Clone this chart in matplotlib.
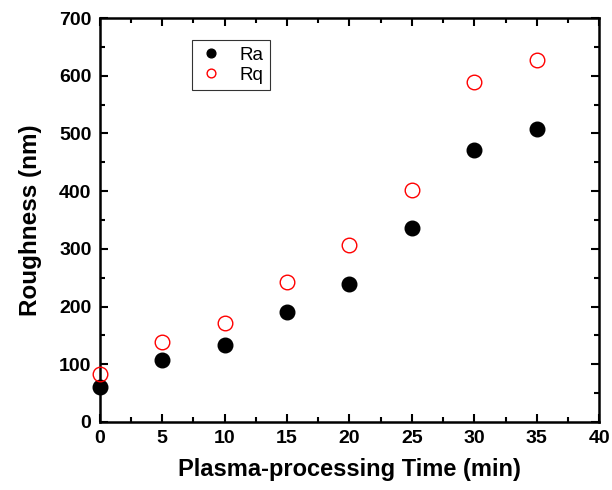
import matplotlib
matplotlib.use("Agg")
import matplotlib.pyplot as plt
from matplotlib.ticker import MultipleLocator

plt.rcParams['font.family'] = ['Liberation Sans', 'DejaVu Sans']

# data
time_min = [0, 5, 10, 15, 20, 25, 30, 35]
ra = [61, 107, 134, 191, 239, 336, 472, 508]
rq = [83, 139, 172, 243, 307, 402, 589, 627]

fig = plt.figure(figsize=(6.12, 4.9), dpi=100)
ax = fig.add_axes([0.163, 0.139, 0.816, 0.824])

ax.plot(time_min, ra, linestyle='none', marker='o', markersize=10.5,
        color='black', label='Ra', clip_on=False, zorder=3)
ax.plot(time_min, rq, linestyle='none', marker='o', markersize=10.5,
        markerfacecolor='none', markeredgecolor='red', markeredgewidth=1.0,
        label='Rq', clip_on=False, zorder=3)

ax.set_xlim(0, 40)
ax.set_ylim(0, 700)
ax.xaxis.set_major_locator(MultipleLocator(5))
ax.xaxis.set_minor_locator(MultipleLocator(2.5))
ax.yaxis.set_major_locator(MultipleLocator(100))
ax.yaxis.set_minor_locator(MultipleLocator(50))

for s in ax.spines.values():
    s.set_linewidth(1.8)
ax.tick_params(which='both', direction='in', top=True, right=True, width=1.5)
ax.tick_params(which='major', length=6, labelsize=14, pad=6)
ax.tick_params(which='minor', length=3.5)
for lab in ax.get_xticklabels() + ax.get_yticklabels():
    lab.set_fontweight('bold')

ax.set_xlabel('Plasma-processing Time (min)', fontsize=17, fontweight='bold', labelpad=8)
ax.set_ylabel('Roughness (nm)', fontsize=17.5, fontweight='bold', labelpad=12)

leg = ax.legend(loc='upper left', bbox_to_anchor=(0.184, 0.946), fontsize=13.5,
                markerscale=0.6, frameon=True, fancybox=False, edgecolor='black',
                handletextpad=0.8, borderpad=0.35, labelspacing=0.15, handlelength=1.4,
                borderaxespad=0)
leg.get_frame().set_linewidth(0.8)

fig.savefig('out.png', dpi=100)
